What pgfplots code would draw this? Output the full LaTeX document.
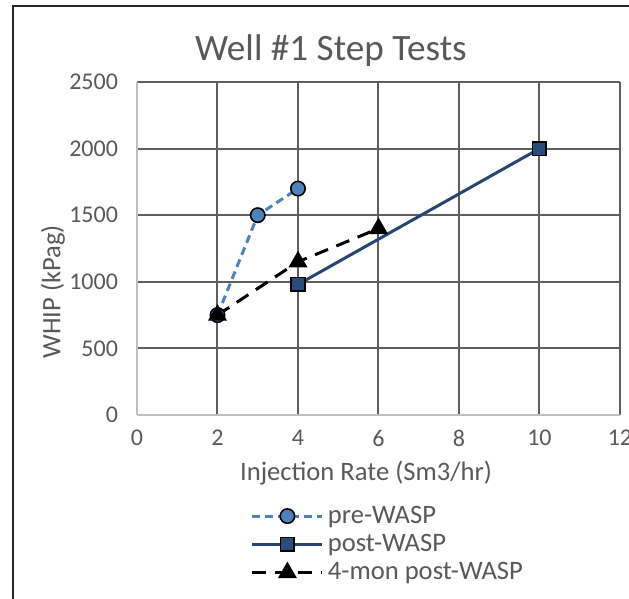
\documentclass[border=0pt]{standalone}
\usepackage{pgfplots}
\pgfplotsset{compat=1.18}
\usepackage{fontspec}
\setmainfont{Carlito}
\definecolor{txt}{HTML}{595959}
\definecolor{gridc}{HTML}{5F5F5F}
\definecolor{axc}{HTML}{BFBFBF}
\definecolor{preblue}{HTML}{4F81BD}
\definecolor{postnavy}{HTML}{264670}
\definecolor{postfill}{HTML}{2B4B78}
\begin{document}
\begin{tikzpicture}
\useasboundingbox (0pt,0pt) rectangle (314.5pt,299.5pt);
\draw[line width=1pt,color=black!85] (6.5pt,0pt) -- (6.5pt,296.5pt) -- (314.5pt,296.5pt);
\node[text=txt,font=\fontsize{18.6}{22}\selectfont,anchor=center] at (165.5pt,274pt) {Well \#1 Step Tests};
\node[text=txt,font=\fontsize{13.3}{16}\selectfont,anchor=center,rotate=90] at (26.5pt,153.5pt) {WHIP (kPag)};
\node[text=txt,font=\fontsize{13.3}{16}\selectfont,anchor=center] at (183pt,63pt) {Injection Rate (Sm3/hr)};
\begin{axis}[
  at={(68.5pt,92pt)}, anchor=south west,
  scale only axis, width=241.5pt, height=166.5pt,
  xmin=0, xmax=12, ymin=0, ymax=2500,
  xtick={0,2,4,6,8,10,12}, ytick={0,500,1000,1500,2000,2500},
  axis lines*=left,
  axis line style={color=axc, line width=1pt},
  major tick length=0pt,
  grid=major,
  major grid style={color=gridc, line width=1pt},
  /pgf/number format/assume math mode=true,
  /pgf/number format/1000 sep={},
  tick label style={text=txt, font=\fontsize{12}{14}\selectfont},
  xticklabel style={yshift=-4pt},
  yticklabel style={xshift=-6pt},
  clip=false,
  legend style={draw=none, fill=none, at={(0.235,-0.26)}, anchor=north west,
    font=\fontsize{13.3}{15}\selectfont, text=txt, row sep=0pt, inner sep=0pt,
    /tikz/every even column/.append style={column sep=2pt}},
  legend cell align=left,
  legend image code/.code={\draw[mark repeat=2,mark phase=2,#1] plot coordinates {(0pt,0pt) (17.5pt,0pt) (35pt,0pt)};},
]
\addplot[color=preblue, line width=1.5pt, dash pattern=on 4pt off 2.5pt,
  mark=*, mark size=3.6pt, mark options={solid, fill=preblue, draw=black, line width=0.8pt}]
  coordinates {(2,750) (3,1500) (4,1700)};
\addlegendentry{pre-WASP}
\addplot[color=postnavy, line width=1.5pt,
  mark=square*, mark size=3.4pt, mark options={solid, fill=postfill, draw=black, line width=0.8pt}]
  coordinates {(4,980) (10,2000)};
\addlegendentry{post-WASP}
\addplot[color=black, line width=1.5pt, dash pattern=on 7pt off 4.5pt,
  mark=triangle*, mark size=4pt, mark options={solid, fill=black, draw=black}]
  coordinates {(2,750) (4,1150) (6,1400)};
\addlegendentry{4-mon post-WASP}
\end{axis}
\end{tikzpicture}
\end{document}
